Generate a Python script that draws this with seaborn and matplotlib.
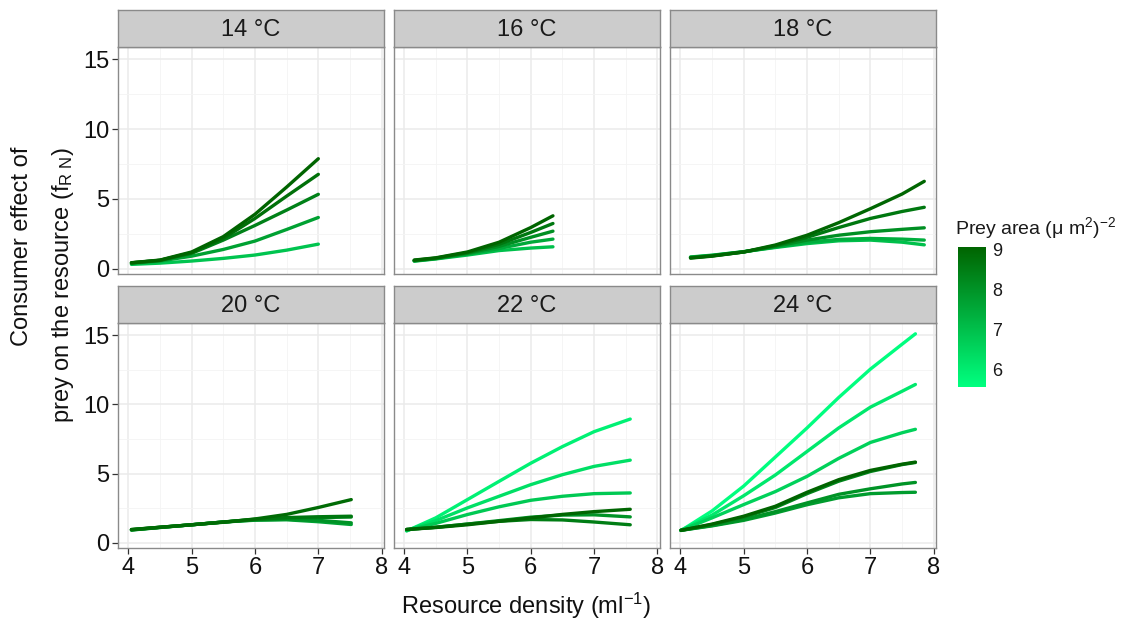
import numpy as np
import pandas as pd
import matplotlib
matplotlib.use("Agg")
import matplotlib.pyplot as plt
import seaborn as sns
from matplotlib.colors import LinearSegmentedColormap, Normalize
from matplotlib.ticker import MultipleLocator
import matplotlib.cm as cm

# ---------------- data ----------------
temps = ["14 °C", "16 °C", "18 °C", "20 °C", "22 °C", "24 °C"]

x14 = [4.05, 4.5, 5.0, 5.5, 6.0, 6.5, 7.0]
area14 = [9.05, 8.8, 8.4, 7.7, 6.9]
y14 = [[0.43, 0.62, 1.2, 2.3, 3.9, 5.85, 7.88],
       [0.42, 0.60, 1.15, 2.17, 3.6, 5.2, 6.76],
       [0.42, 0.60, 1.10, 2.05, 3.1, 4.2, 5.33],
       [0.38, 0.55, 0.90, 1.38, 1.98, 2.81, 3.67],
       [0.31, 0.40, 0.55, 0.74, 0.98, 1.33, 1.76]]

x16 = [4.16, 4.5, 5.0, 5.5, 6.0, 6.35]
area16 = [9.05, 8.6, 8.1, 7.5, 7.0]
y16 = [[0.62, 0.78, 1.20, 1.90, 2.95, 3.79],
       [0.60, 0.76, 1.15, 1.75, 2.60, 3.24],
       [0.58, 0.74, 1.10, 1.60, 2.25, 2.69],
       [0.56, 0.72, 1.05, 1.45, 1.90, 2.12],
       [0.54, 0.70, 0.98, 1.30, 1.48, 1.57]]

x18 = [4.16, 4.5, 5.0, 5.5, 6.0, 6.5, 7.0, 7.5, 7.85]
area18 = [9.0, 8.6, 8.1, 7.4, 7.0]
y18 = [[0.76, 0.90, 1.20, 1.70, 2.40, 3.30, 4.30, 5.35, 6.26],
       [0.78, 0.92, 1.20, 1.65, 2.25, 2.95, 3.60, 4.10, 4.40],
       [0.80, 0.93, 1.20, 1.60, 2.05, 2.40, 2.65, 2.82, 2.93],
       [0.82, 0.95, 1.22, 1.55, 1.90, 2.10, 2.17, 2.12, 2.05],
       [0.84, 0.97, 1.22, 1.52, 1.80, 2.00, 2.05, 1.90, 1.71]]

x20 = [4.05, 4.5, 5.0, 5.5, 6.0, 6.5, 7.0, 7.52]
area20 = [8.9, 8.6, 8.3, 8.0, 7.7]
y20 = [[0.96, 1.12, 1.30, 1.48, 1.72, 2.05, 2.55, 3.12],
       [0.95, 1.12, 1.30, 1.50, 1.70, 1.82, 1.88, 1.92],
       [0.94, 1.12, 1.30, 1.50, 1.68, 1.78, 1.82, 1.86],
       [0.93, 1.11, 1.30, 1.50, 1.65, 1.70, 1.62, 1.44],
       [0.92, 1.10, 1.30, 1.50, 1.63, 1.66, 1.52, 1.32]]

x22 = [4.04, 4.5, 5.0, 5.5, 6.0, 6.5, 7.0, 7.57]
area22 = [5.9, 6.3, 6.8, 9.0, 8.0, 8.5]
y22 = [[0.85, 1.80, 3.12, 4.44, 5.75, 6.95, 8.03, 8.94],
       [0.88, 1.60, 2.52, 3.36, 4.20, 4.92, 5.52, 5.97],
       [0.90, 1.40, 2.04, 2.60, 3.07, 3.36, 3.55, 3.60],
       [0.96, 1.10, 1.30, 1.55, 1.80, 2.05, 2.25, 2.42],
       [0.96, 1.12, 1.35, 1.60, 1.85, 2.00, 2.02, 1.87],
       [0.96, 1.12, 1.35, 1.55, 1.68, 1.65, 1.50, 1.30]]

x24 = [4.01, 4.5, 5.0, 5.5, 6.0, 6.5, 7.0, 7.5, 7.71]
area24 = [5.6, 6.1, 6.6, 9.05, 8.3, 8.0, 7.8]
y24 = [[0.88, 2.30, 4.10, 6.20, 8.30, 10.50, 12.55, 14.35, 15.10],
       [0.90, 2.00, 3.40, 4.90, 6.60, 8.30, 9.80, 10.95, 11.44],
       [0.90, 1.80, 2.76, 3.70, 4.80, 6.10, 7.25, 7.95, 8.20],
       [0.90, 1.35, 1.92, 2.64, 3.65, 4.56, 5.23, 5.68, 5.83],
       [0.90, 1.32, 1.85, 2.55, 3.55, 4.45, 5.15, 5.65, 5.80],
       [0.90, 1.25, 1.68, 2.25, 2.88, 3.50, 3.90, 4.25, 4.36],
       [0.90, 1.22, 1.62, 2.15, 2.75, 3.25, 3.55, 3.63, 3.65]]

panel_x = [x14, x16, x18, x20, x22, x24]
panel_area = [area14, area16, area18, area20, area22, area24]
panel_y = [y14, y16, y18, y20, y22, y24]

area_min, area_max = 5.58, 9.06
cbar_ticks = [6, 7, 8, 9]
x_ticks = [4, 5, 6, 7, 8]
y_ticks = [0, 5, 10, 15]

# ---------------- style ----------------
sns.set_theme(style="white")
plt.rcParams["font.family"] = ["Liberation Sans", "DejaVu Sans"]
plt.rcParams["mathtext.fontset"] = "custom"
plt.rcParams["mathtext.rm"] = "Liberation Sans"
plt.rcParams["mathtext.it"] = "Liberation Sans:italic"
plt.rcParams["mathtext.bf"] = "Liberation Sans:bold"

FS = 17
cmap = LinearSegmentedColormap.from_list("prey", ["#00FF7F", "#006400"])
norm = Normalize(vmin=area_min, vmax=area_max)

W, H = 1131, 622
fig = plt.figure(figsize=(W / 100, H / 100), dpi=100)

col_left = [117.7, 393.5, 669.8]
pw = 266.0
row_top = [47.3, 323.3]
ph = [227.0, 225.0]
strip_h = 37.0

for i, temp in enumerate(temps):
    r, c = divmod(i, 3)
    left = col_left[c] / W
    bottom = 1 - (row_top[r] + ph[r]) / H
    ax = fig.add_axes([left, bottom, pw / W, ph[r] / H])

    rows = []
    for a, ys in zip(panel_area[i], panel_y[i]):
        for xv, yv in zip(panel_x[i], ys):
            rows.append({"x": xv, "y": yv, "area": a})
    df = pd.DataFrame(rows)
    pal = {a: cmap(norm(a)) for a in panel_area[i]}
    sns.lineplot(data=df, x="x", y="y", hue="area", palette=pal,
                 estimator=None, sort=False, legend=False, linewidth=2.4, ax=ax)

    ax.set_xlim(3.833, 8.032)
    ax.set_ylim(-0.4, 15.86)
    ax.set_xticks(x_ticks)
    ax.set_yticks(y_ticks)
    ax.xaxis.set_minor_locator(MultipleLocator(0.5))
    ax.yaxis.set_minor_locator(MultipleLocator(2.5))
    ax.grid(which="major", color="#EBEBEB", linewidth=1.1)
    ax.grid(which="minor", color="#F4F4F4", linewidth=0.6)
    ax.set_axisbelow(True)
    ax.set_xlabel("")
    ax.set_ylabel("")
    for sp in ax.spines.values():
        sp.set_color("#8a8a8a")
        sp.set_linewidth(1.0)
    ax.tick_params(which="major", length=4, width=0.9, color="#333333",
                   labelsize=FS, labelcolor="#111111", pad=2,
                   bottom=(r == 1), left=(c == 0),
                   labelbottom=(r == 1), labelleft=(c == 0))
    ax.tick_params(which="minor", length=0)

    # strip
    sax = fig.add_axes([left, 1 - row_top[r] / H, pw / W, strip_h / H])
    sax.set_facecolor("#CCCCCC")
    sax.set_xticks([])
    sax.set_yticks([])
    for sp in sax.spines.values():
        sp.set_color("#8a8a8a")
        sp.set_linewidth(1.0)
    sax.text(0.5, 0.47, temp, ha="center", va="center", fontsize=FS,
             color="#1a1a1a", transform=sax.transAxes)

# colorbar
cax = fig.add_axes([958 / W, 1 - 386.7 / H, 28.4 / W, 140 / H])
sm = cm.ScalarMappable(norm=norm, cmap=cmap)
cb = fig.colorbar(sm, cax=cax, ticks=cbar_ticks)
cb.outline.set_visible(False)
cb.ax.tick_params(direction="in", color="white", length=5, width=0.8,
                  left=True, right=True, labelsize=13, labelcolor="#1a1a1a", pad=4)
fig.text(955 / W, 1 - 234 / H, r"Prey area ($\mathrm{\mu}$ m$^{2}$)$^{-2}$",
         ha="left", va="baseline", fontsize=14, color="#1a1a1a")

# axis titles
fig.text(22.5 / W, 1 - 147 / H, "Consumer effect of", rotation=90,
         ha="center", va="top", fontsize=FS, color="#111111")
fig.text(63 / W, 1 - 147 / H, r"prey on the resource (f$_{\mathrm{R\ N}}$)", rotation=90,
         ha="center", va="top", fontsize=FS, color="#111111")
fig.text(526 / W, 1 - 606 / H, r"Resource density (ml$^{-1}$)",
         ha="center", va="center", fontsize=FS, color="#111111")

fig.savefig("out.png", dpi=100)
